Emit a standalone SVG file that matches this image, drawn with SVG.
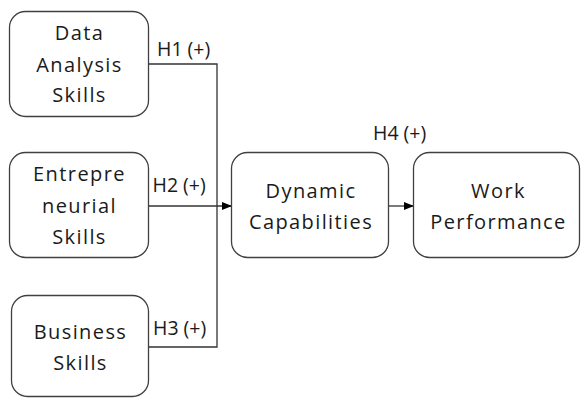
<svg xmlns="http://www.w3.org/2000/svg" width="581" height="398" viewBox="0 0 581 398">
<defs>
<marker id="ah" markerWidth="10" markerHeight="8" refX="9" refY="4" orient="auto" markerUnits="userSpaceOnUse">
<path d="M0,0 L10,4 L0,8 Z" fill="#000"/>
</marker>
<style>
.box{fill:#fff;stroke:#404040;stroke-width:1.3}
.t{font-family:"Open Sans","Noto Sans",sans-serif;font-size:20px;letter-spacing:1.4px;fill:#1a1a1a;text-anchor:middle}
.l{font-family:"Open Sans","Noto Sans",sans-serif;font-size:19.5px;fill:#1a1a1a}
.c{fill:none;stroke:#333;stroke-width:1.3}
</style>
</defs>
<rect width="581" height="398" fill="#fff"/>
<g id="connectors">
<path class="c" d="M149,64 H217 V347 H149"/>
<path class="c" d="M149,206 H231" marker-end="url(#ah)"/>
<path class="c" d="M389,206 H413" marker-end="url(#ah)"/>
<text class="l" x="157" y="56">H1 (+)</text>
<text class="l" x="152.5" y="191.5">H2 (+)</text>
<text class="l" x="153" y="335">H3 (+)</text>
<text class="l" x="373" y="139.5">H4 (+)</text>
</g>
<g id="data-analysis">
<rect class="box" x="9.5" y="11.5" width="139" height="105" rx="16"/>
<text class="t" x="79.5" y="40">Data</text>
<text class="t" x="79.5" y="71.5">Analysis</text>
<text class="t" x="79.5" y="101.5">Skills</text>
</g>
<g id="entrepreneurial">
<rect class="box" x="9.5" y="152.5" width="139" height="105" rx="16"/>
<text class="t" x="79.5" y="181">Entrepre</text>
<text class="t" x="79.5" y="212.5">neurial</text>
<text class="t" x="79.5" y="244">Skills</text>
</g>
<g id="business">
<rect class="box" x="11.5" y="295.5" width="137" height="101" rx="16"/>
<text class="t" x="80.5" y="338.5">Business</text>
<text class="t" x="80.5" y="370">Skills</text>
</g>
<g id="dynamic">
<rect class="box" x="231.5" y="152.5" width="157" height="105" rx="16"/>
<text class="t" x="311" y="198">Dynamic</text>
<text class="t" x="311" y="228.5">Capabilities</text>
</g>
<g id="work">
<rect class="box" x="413.5" y="152.5" width="166" height="105" rx="16"/>
<text class="t" x="498.5" y="198">Work</text>
<text class="t" x="498.5" y="228.5">Performance</text>
</g>
</svg>
